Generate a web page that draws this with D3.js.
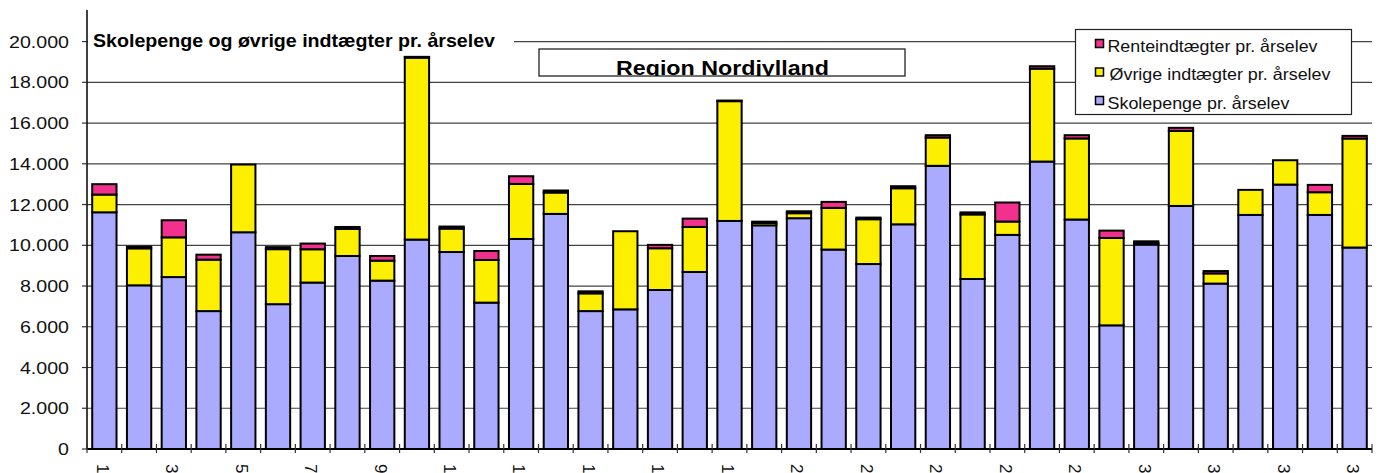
<!DOCTYPE html>
<html>
<head>
<meta charset="utf-8">
<script src="https://cdn.jsdelivr.net/npm/d3@7"></script>
<style>
  body { margin: 0; background: #fff; }
  svg { display: block; }
  text { font-family: "Liberation Sans", Arial, sans-serif; }
</style>
</head>
<body>
<div id="chart"></div>
<script>
// school numbers (x axis)
var schools = ["1","2","3","4","5","6","7","8","9","10","11","12","13","14","15","16","17","18","19",
  "20","21","22","23","24","25","26","27","28","29","30","31","32","33","34","35","36","37"];

// kr. per årselev
var skolepenge = [11620, 8035, 8440, 6770, 10640, 7110, 8170, 9475, 8265, 10280, 9670, 7185, 10310,
  11540, 6770, 6855, 7805, 8690, 11195, 10980, 11330, 9790, 9080, 11030, 13900, 8345, 10510, 14110,
  11265, 6070, 10035, 11930, 8120, 11490, 12980, 11490, 9890];
var ovrige = [870, 1815, 1950, 2525, 3325, 2700, 1635, 1330, 980, 8930, 1150, 2095, 2700,
  1050, 870, 3835, 2050, 2210, 5880, 120, 245, 2045, 2200, 1770, 1390, 3170, 655, 4560,
  3980, 4290, 60, 3685, 500, 1230, 1195, 1115, 5350];
var rente = [510, 85, 840, 245, 0, 100, 280, 95, 230, 40, 100, 440, 380,
  100, 100, 0, 165, 410, 30, 60, 95, 295, 80, 100, 115, 100, 935, 120,
  160, 360, 100, 150, 115, 0, 0, 360, 130];

var yTicks = [0, 2000, 4000, 6000, 8000, 10000, 12000, 14000, 16000, 18000, 20000];
var keys = ["skole", "ovrige", "rente"];
var legendNames = ["Renteindtægter pr. årselev", "Øvrige indtægter pr. årselev", "Skolepenge pr. årselev"];
var legendKeys = ["rente", "ovrige", "skole"];
var colors = { skole: "#aaaaff", ovrige: "#fcf000", rente: "#f2318f" };

var chartTitle = "Skolepenge og øvrige indtægter pr. årselev";
var regionTitle = "Region Nordjylland";

var width = 1384, height = 473;
var svg = d3.select("#chart").append("svg")
  .attr("width", width)
  .attr("height", height);

var plotLeft = 87, plotRight = 1372, plotBottom = 449, plotTop = 10;

var x = d3.scaleBand().domain(schools).range([plotLeft, plotRight]).paddingInner(0.3).paddingOuter(0.15);
var y = d3.scaleLinear().domain([0, 21550]).range([plotBottom, plotTop]);

var dk = d3.formatLocale({ decimal: ",", thousands: ".", grouping: [3], currency: ["", ""] });
var fmt = dk.format(",");

// width of a number label in em units (digits .556, dot .278)
function emWidth(s) {
  var w = 0;
  for (var i = 0; i < s.length; i++) w += (s[i] === "." ? 0.278 : 0.556);
  return w;
}

var data = schools.map(function(s, i) {
  return { school: s, skole: skolepenge[i], ovrige: ovrige[i], rente: rente[i] };
});
var stacked = d3.stack().keys(keys)(data);

// gridlines
svg.append("g")
  .selectAll("line")
  .data(yTicks.filter(function(d) { return d > 0; }))
  .enter().append("line")
  .attr("x1", plotLeft).attr("x2", plotRight)
  .attr("y1", function(d) { return y(d); })
  .attr("y2", function(d) { return y(d); })
  .attr("stroke", "#444")
  .attr("stroke-width", 1.2);

// y axis
svg.append("line")
  .attr("x1", plotLeft).attr("x2", plotLeft)
  .attr("y1", plotTop).attr("y2", plotBottom)
  .attr("stroke", "#000").attr("stroke-width", 1.5);

svg.append("g")
  .selectAll("line")
  .data(yTicks)
  .enter().append("line")
  .attr("x1", plotLeft - 5).attr("x2", plotLeft)
  .attr("y1", function(d) { return y(d); })
  .attr("y2", function(d) { return y(d); })
  .attr("stroke", "#333").attr("stroke-width", 1.2);

svg.append("g")
  .selectAll("text")
  .data(yTicks)
  .enter().append("text")
  .attr("x", 69)
  .attr("y", function(d) { return y(d); })
  .attr("dy", "0.36em")
  .attr("text-anchor", "end")
  .attr("font-size", "17px")
  .attr("fill", "#111")
  .attr("textLength", function(d) { return emWidth(fmt(d)) * 19.6; })
  .attr("lengthAdjust", "spacingAndGlyphs")
  .text(function(d) { return fmt(d); });

// bars
svg.append("g")
  .selectAll("g")
  .data(stacked)
  .enter().append("g")
  .attr("fill", function(d) { return colors[d.key]; })
  .selectAll("rect")
  .data(function(d) { return d.filter(function(p) { return p[1] > p[0]; }); })
  .enter().append("rect")
  .attr("x", function(d) { return x(d.data.school); })
  .attr("width", x.bandwidth())
  .attr("y", function(d) { return y(d[1]); })
  .attr("height", function(d) { return y(d[0]) - y(d[1]); })
  .attr("stroke", "#000")
  .attr("stroke-width", 2);

// x axis
svg.append("line")
  .attr("x1", plotLeft).attr("x2", plotRight)
  .attr("y1", plotBottom).attr("y2", plotBottom)
  .attr("stroke", "#000").attr("stroke-width", 2);

var step = x.step();
svg.append("g")
  .selectAll("line")
  .data(schools.concat(["end"]))
  .enter().append("line")
  .attr("x1", function(d, i) { return plotLeft + step * i; })
  .attr("x2", function(d, i) { return plotLeft + step * i; })
  .attr("y1", plotBottom - 5).attr("y2", plotBottom + 4)
  .attr("stroke", "#333").attr("stroke-width", 1.2);

svg.append("g")
  .selectAll("text")
  .data(schools.filter(function(d, i) { return i % 2 === 0; }))
  .enter().append("text")
  .attr("transform", function(d) {
    return "translate(" + (x(d) + x.bandwidth() / 2) + "," + plotBottom + ") rotate(90)";
  })
  .attr("x", 15)
  .attr("dy", "0.45em")
  .attr("font-size", "17px")
  .attr("fill", "#111")
  .text(function(d) { return d; });

// chart title with white background over the 20.000 gridline
svg.append("rect")
  .attr("x", plotLeft + 1).attr("y", 29)
  .attr("width", 426).attr("height", 25)
  .attr("fill", "#fff");
svg.append("text")
  .attr("x", 93).attr("y", 46.5)
  .attr("font-size", "18.5px")
  .attr("font-weight", "bold")
  .attr("fill", "#000")
  .attr("textLength", 402)
  .attr("lengthAdjust", "spacingAndGlyphs")
  .text(chartTitle);

// region box
svg.append("defs").append("clipPath")
  .attr("id", "regionClip")
  .append("rect")
  .attr("x", 539).attr("y", 49)
  .attr("width", 366).attr("height", 27);
svg.append("rect")
  .attr("x", 539).attr("y", 49)
  .attr("width", 366).attr("height", 27)
  .attr("fill", "#fff")
  .attr("stroke", "#222")
  .attr("stroke-width", 1.3);
svg.append("text")
  .attr("clip-path", "url(#regionClip)")
  .attr("x", 616).attr("y", 74.5)
  .attr("font-size", "20px")
  .attr("font-weight", "bold")
  .attr("fill", "#000")
  .attr("textLength", 213)
  .attr("lengthAdjust", "spacingAndGlyphs")
  .text(regionTitle);

// legend
var legend = svg.append("g").attr("transform", "translate(1075.5,29.5)");
legend.append("rect")
  .attr("width", 276).attr("height", 85)
  .attr("fill", "#fff")
  .attr("stroke", "#222")
  .attr("stroke-width", 1.2);
var legendLen = [210, 221, 182];
var item = legend.selectAll(".item")
  .data(legendKeys)
  .enter().append("g")
  .attr("class", "item")
  .attr("transform", function(d, i) { return "translate(0," + (14 + i * 28.5) + ")"; });
item.append("rect")
  .attr("x", 20).attr("y", -4)
  .attr("width", 8).attr("height", 8)
  .attr("fill", function(d) { return colors[d]; })
  .attr("stroke", "#000")
  .attr("stroke-width", 1.5);
item.append("text")
  .attr("x", function(d, i) { return i === 1 ? 34 : 32; })
  .attr("y", 8)
  .attr("font-size", "16.5px")
  .attr("fill", "#111")
  .attr("textLength", function(d, i) { return legendLen[i]; })
  .attr("lengthAdjust", "spacingAndGlyphs")
  .text(function(d, i) { return legendNames[i]; });
</script>
</body>
</html>
